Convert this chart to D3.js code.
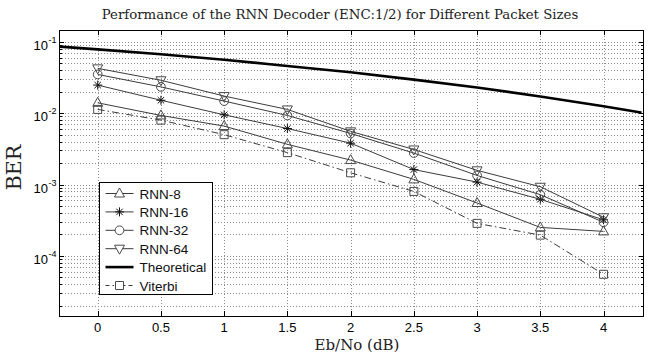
<!DOCTYPE html>
<html>
<head>
<meta charset="utf-8">
<script src="https://cdn.jsdelivr.net/npm/d3@7"></script>
<style>
  body { margin: 0; background: #fff; }
  svg { display: block; }
</style>
</head>
<body>
<div id="chart"></div>
<script>
// chart size and plot box (pixels)
const WIDTH = 662;
const HEIGHT = 358;
const MARGIN = { left: 59, right: 18, top: 30, bottom: 42 };

// data
const ebno = [0, 0.5, 1, 1.5, 2, 2.5, 3, 3.5, 4];
const rnn8 = [0.0140, 0.0093, 0.0066, 0.00366, 0.0022, 0.00118, 0.00055, 0.00025, 0.00022];
const rnn16 = [0.0248, 0.0152, 0.0095, 0.0061, 0.0038, 0.00162, 0.00108, 0.00062, 0.00032];
const rnn32 = [0.0350, 0.0234, 0.0148, 0.0093, 0.0052, 0.00276, 0.00134, 0.00072, 0.000295];
const rnn64 = [0.0426, 0.0290, 0.0174, 0.0113, 0.00557, 0.0031, 0.00158, 0.00093, 0.000347];
const viterbi = [0.0113, 0.0080, 0.0050, 0.0028, 0.00146, 0.00080, 0.000285, 0.000195, 0.000055];
const theoEbno = [-0.3, 0, 0.5, 1, 1.5, 2, 2.5, 3, 3.5, 4, 4.3];
const theoBer = [0.086, 0.0786, 0.067, 0.0563, 0.046, 0.0375, 0.0296, 0.0229, 0.0172, 0.0125, 0.0102];

const xTicks = [0, 0.5, 1, 1.5, 2, 2.5, 3, 3.5, 4];
const yDecadeExp = [-1, -2, -3, -4];
const legendNames = ["RNN-8", "RNN-16", "RNN-32", "RNN-64", "Theoretical", "Viterbi"];

const TITLE = "Performance of the RNN Decoder (ENC:1/2) for Different Packet Sizes";
const X_LABEL = "Eb/No (dB)";
const Y_LABEL = "BER";

const LINE_GREY = "#3c3c3c";
const MARK_GREY = "#4a4a4a";
const GRID_GREY = "#8c8c8c";
const SERIF = "DejaVu Serif, Liberation Serif, serif";
const SANS = "Liberation Sans, Arial, sans-serif";

// series table built from the arrays above
const series = [
  { name: legendNames[0], values: rnn8, marker: "triUp", dash: null },
  { name: legendNames[1], values: rnn16, marker: "star", dash: null },
  { name: legendNames[2], values: rnn32, marker: "circle", dash: null },
  { name: legendNames[3], values: rnn64, marker: "triDown", dash: null },
  { name: legendNames[5], values: viterbi, marker: "square", dash: "7,3,1.5,3" },
];

setup();

function setup() {
  let svg = d3
    .select("#chart")
    .append("svg")
    .attr("width", WIDTH)
    .attr("height", HEIGHT);

  let x = d3
    .scaleLinear()
    .domain([-0.306, 4.32])
    .range([MARGIN.left, WIDTH - MARGIN.right]);

  let y = d3
    .scaleLog()
    .domain([1.43e-5, 0.147])
    .range([HEIGHT - MARGIN.bottom, MARGIN.top]);

  const x0 = x.range()[0], x1 = x.range()[1];
  const y0 = y.range()[0], y1 = y.range()[1];

  // minor log ticks inside the domain (grid + tick marks)
  let minorTicks = [];
  for (let e = -5; e <= -1; e++) {
    for (let m = 1; m <= 9; m++) {
      let v = m * Math.pow(10, e);
      if (v >= y.domain()[0] && v <= y.domain()[1]) minorTicks.push(v);
    }
  }

  // grid
  let grid = svg.append("g").attr("class", "grid")
    .attr("stroke", GRID_GREY)
    .attr("stroke-width", 1)
    .attr("stroke-dasharray", "1,2");
  grid.selectAll("line.gx")
    .data(xTicks)
    .join("line")
    .attr("class", "gx")
    .attr("x1", (d) => Math.round(x(d)) + 0.5)
    .attr("x2", (d) => Math.round(x(d)) + 0.5)
    .attr("y1", y1)
    .attr("y2", y0);
  grid.selectAll("line.gy")
    .data(minorTicks)
    .join("line")
    .attr("class", "gy")
    .attr("x1", x0)
    .attr("x2", x1)
    .attr("y1", (d) => Math.round(y(d)) + 0.5)
    .attr("y2", (d) => Math.round(y(d)) + 0.5);

  // tick marks, inside on all four sides
  let ticks = svg.append("g").attr("stroke", "#000").attr("stroke-width", 1);
  xTicks.forEach((t) => {
    let px = Math.round(x(t)) + 0.5;
    ticks.append("line").attr("x1", px).attr("x2", px).attr("y1", y0).attr("y2", y0 - 5);
    ticks.append("line").attr("x1", px).attr("x2", px).attr("y1", y1).attr("y2", y1 + 5);
  });
  minorTicks.forEach((t) => {
    let py = Math.round(y(t)) + 0.5;
    let major = Math.abs(Math.log10(t) - Math.round(Math.log10(t))) < 1e-9;
    let len = major ? 5 : 3;
    ticks.append("line").attr("x1", x0).attr("x2", x0 + len).attr("y1", py).attr("y2", py);
    ticks.append("line").attr("x1", x1).attr("x2", x1 - len).attr("y1", py).attr("y2", py);
  });

  // clip for lines
  svg.append("clipPath").attr("id", "plot-clip")
    .append("rect")
    .attr("x", x0).attr("y", y1)
    .attr("width", x1 - x0).attr("height", y0 - y1);

  let plot = svg.append("g").attr("clip-path", "url(#plot-clip)");

  // theoretical curve
  let theo = theoEbno.map((d, i) => ({ x: d, y: theoBer[i] }));
  plot.append("path")
    .datum(theo)
    .attr("fill", "none")
    .attr("stroke", "#000")
    .attr("stroke-width", 2.6)
    .attr("d", d3.line().x((d) => x(d.x)).y((d) => y(d.y)).curve(d3.curveMonotoneX));

  // data series
  series.forEach((s) => {
    let pts = ebno.map((d, i) => ({ x: d, y: s.values[i] }));
    plot.append("path")
      .datum(pts)
      .attr("fill", "none")
      .attr("stroke", LINE_GREY)
      .attr("stroke-width", 1)
      .attr("stroke-dasharray", s.dash)
      .attr("d", d3.line().x((d) => x(d.x)).y((d) => y(d.y)));
    plot.selectAll(null)
      .data(pts)
      .join("path")
      .attr("transform", (d) => `translate(${x(d.x)},${y(d.y)})`)
      .attr("d", markerPath(s.marker))
      .attr("fill", "none")
      .attr("stroke", s.marker === "star" ? "#111" : MARK_GREY)
      .attr("stroke-width", 1);
  });

  // box
  svg.append("rect")
    .attr("x", x0 + 0.5).attr("y", y1 + 0.5)
    .attr("width", x1 - x0 - 1).attr("height", y0 - y1)
    .attr("fill", "none").attr("stroke", "#000").attr("stroke-width", 1);

  // x tick labels
  svg.append("g").selectAll("text")
    .data(xTicks)
    .join("text")
    .attr("x", (d) => x(d))
    .attr("y", y0 + 16)
    .attr("text-anchor", "middle")
    .attr("font-family", SANS)
    .attr("font-size", 13)
    .text((d) => d);

  // y tick labels 10^e
  let yl = svg.append("g").attr("font-family", SANS);
  yDecadeExp.forEach((e) => {
    let py = y(Math.pow(10, e));
    yl.append("text")
      .attr("x", 48).attr("y", py + 8)
      .attr("text-anchor", "end")
      .attr("font-size", 13)
      .text("10");
    yl.append("text")
      .attr("x", 48.5).attr("y", py + 1)
      .attr("font-size", 9)
      .text(e);
  });

  // title and axis labels
  svg.append("text")
    .attr("x", 340).attr("y", 19)
    .attr("text-anchor", "middle")
    .attr("font-family", SERIF)
    .attr("font-size", 13.3)
    .attr("fill", "#222")
    .text(TITLE);
  svg.append("text")
    .attr("x", 357).attr("y", HEIGHT - 8)
    .attr("text-anchor", "middle")
    .attr("font-family", SERIF)
    .attr("font-size", 15)
    .attr("fill", "#222")
    .text(X_LABEL);
  svg.append("text")
    .attr("transform", "translate(21,167.5) rotate(-90)")
    .attr("text-anchor", "middle")
    .attr("font-family", SERIF)
    .attr("font-size", 20.5)
    .attr("fill", "#222")
    .text(Y_LABEL);

  drawLegend(svg);
}

function markerPath(kind) {
  if (kind === "circle") return d3.symbol(d3.symbolCircle, 60)();
  if (kind === "square") return "M-4,-4H4V4H-4Z";
  if (kind === "triUp") return "M0,-5.5L5,3.5L-5,3.5Z";
  if (kind === "triDown") return "M0,5.5L5,-3.5L-5,-3.5Z";
  // asterisk: plus + cross
  return "M-4.5,0H4.5M0,-4.5V4.5M-3.2,-3.2L3.2,3.2M-3.2,3.2L3.2,-3.2";
}

function drawLegend(svg) {
  const lx = 99.5, ly = 182.5, lw = 113, lh = 112, rowH = 18.4;
  let g = svg.append("g");
  g.append("rect")
    .attr("x", lx).attr("y", ly)
    .attr("width", lw).attr("height", lh)
    .attr("fill", "#fff").attr("stroke", "#000").attr("stroke-width", 1);

  const rows = [
    { name: legendNames[0], marker: "triUp", dash: null, theo: false },
    { name: legendNames[1], marker: "star", dash: null, theo: false },
    { name: legendNames[2], marker: "circle", dash: null, theo: false },
    { name: legendNames[3], marker: "triDown", dash: null, theo: false },
    { name: legendNames[4], marker: null, dash: null, theo: true },
    { name: legendNames[5], marker: "square", dash: "4,3,1.5,3", theo: false },
  ];

  rows.forEach((r, i) => {
    let cy = ly + 11 + i * rowH;
    g.append("line")
      .attr("x1", lx + 6).attr("x2", lx + 34)
      .attr("y1", cy).attr("y2", cy)
      .attr("stroke", r.theo ? "#000" : LINE_GREY)
      .attr("stroke-width", r.theo ? 2.6 : 1)
      .attr("stroke-dasharray", r.dash);
    if (r.marker) {
      g.append("path")
        .attr("transform", `translate(${lx + 20},${cy})`)
        .attr("d", markerPath(r.marker))
        .attr("fill", "#fff")
        .attr("stroke", r.marker === "star" ? "#111" : MARK_GREY);
    }
    g.append("text")
      .attr("x", lx + 40).attr("y", cy + 5)
      .attr("font-family", SANS)
      .attr("font-size", 13.5)
      .attr("fill", "#111")
      .text(r.name);
  });
}
</script>
</body>
</html>
